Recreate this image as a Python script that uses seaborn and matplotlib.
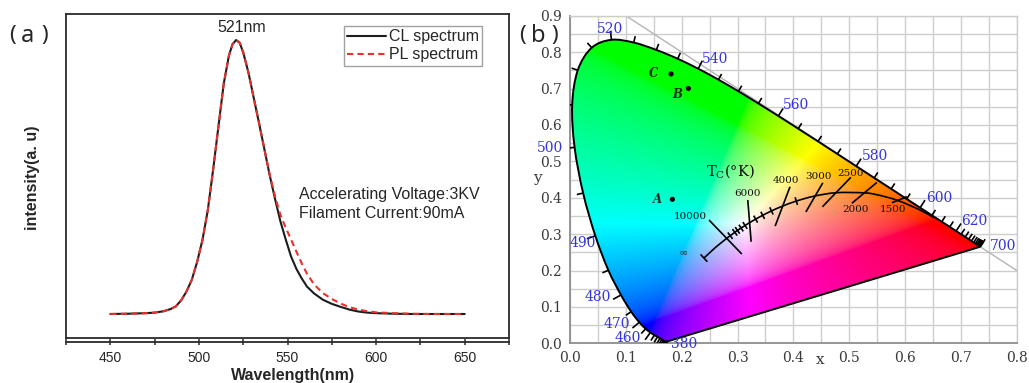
import numpy as np
import pandas as pd
import matplotlib
matplotlib.use("Agg")
import matplotlib.pyplot as plt
import seaborn as sns
from matplotlib.collections import LineCollection
from matplotlib.patches import PathPatch
from matplotlib.path import Path
from matplotlib.ticker import FormatStrFormatter, MultipleLocator

# ---------------- (a) emission spectra ----------------
wavelength_nm = [450, 460, 470, 475, 480, 484, 487, 490, 493, 496, 499, 502, 505, 508,
                 511, 514, 517, 519, 521, 523, 525, 528, 531, 534, 537, 540, 543, 546,
                 549, 552, 555, 558, 561, 565, 570, 575, 580, 585, 590, 595, 600, 610,
                 620, 630, 640, 650]
cl_intensity = [0.000, 0.001, 0.003, 0.005, 0.010, 0.018, 0.028, 0.050, 0.082, 0.125,
                0.190, 0.270, 0.378, 0.525, 0.683, 0.840, 0.945, 0.985, 1.000, 0.990,
                0.955, 0.880, 0.787, 0.695, 0.600, 0.505, 0.419, 0.338, 0.272, 0.210,
                0.165, 0.130, 0.100, 0.075, 0.052, 0.037, 0.026, 0.016, 0.009, 0.005,
                0.003, 0.001, 0.000, 0.000, 0.000, 0.000]
pl_intensity = [0.000, 0.001, 0.003, 0.005, 0.010, 0.018, 0.028, 0.050, 0.082, 0.125,
                0.190, 0.270, 0.378, 0.525, 0.683, 0.840, 0.945, 0.985, 1.000, 0.990,
                0.955, 0.880, 0.787, 0.695, 0.600, 0.508, 0.428, 0.362, 0.315, 0.272,
                0.228, 0.185, 0.147, 0.108, 0.076, 0.055, 0.038, 0.025, 0.016, 0.010,
                0.006, 0.003, 0.001, 0.000, 0.000, 0.000]
series_names = ["CL spectrum", "PL spectrum"]
peak_label = "521nm"
condition_lines = ["Accelerating Voltage:3KV", "Filament Current:90mA"]
spectrum_ticks = [450, 500, 550, 600, 650]

# ---------------- (b) CIE 1931 chromaticity diagram ----------------
locus_nm = list(range(380, 701, 5))
locus_x = [0.1741, 0.1740, 0.1738, 0.1736, 0.1733, 0.1730, 0.1726, 0.1721, 0.1714, 0.1703,
           0.1689, 0.1669, 0.1644, 0.1611, 0.1566, 0.1510, 0.1440, 0.1355, 0.1241, 0.1096,
           0.0913, 0.0687, 0.0454, 0.0235, 0.0082, 0.0039, 0.0139, 0.0389, 0.0743, 0.1142,
           0.1547, 0.1929, 0.2296, 0.2658, 0.3016, 0.3373, 0.3731, 0.4087, 0.4441, 0.4788,
           0.5125, 0.5448, 0.5752, 0.6029, 0.6270, 0.6482, 0.6658, 0.6801, 0.6915, 0.7006,
           0.7079, 0.7140, 0.7190, 0.7230, 0.7260, 0.7283, 0.7300, 0.7311, 0.7320, 0.7327,
           0.7334, 0.7340, 0.7344, 0.7346, 0.7347]
locus_y = [0.0050, 0.0050, 0.0049, 0.0049, 0.0048, 0.0048, 0.0048, 0.0048, 0.0051, 0.0058,
           0.0069, 0.0086, 0.0109, 0.0138, 0.0177, 0.0227, 0.0297, 0.0399, 0.0578, 0.0868,
           0.1327, 0.2007, 0.2950, 0.4127, 0.5384, 0.6548, 0.7502, 0.8120, 0.8338, 0.8262,
           0.8059, 0.7816, 0.7543, 0.7243, 0.6923, 0.6589, 0.6245, 0.5896, 0.5547, 0.5202,
           0.4866, 0.4544, 0.4242, 0.3965, 0.3725, 0.3514, 0.3340, 0.3197, 0.3083, 0.2993,
           0.2920, 0.2859, 0.2809, 0.2770, 0.2740, 0.2717, 0.2700, 0.2689, 0.2680, 0.2673,
           0.2666, 0.2660, 0.2656, 0.2654, 0.2653]
locus_labels = [380, 460, 470, 480, 490, 500, 520, 540, 560, 580, 600, 620, 700]

planck_T = [1000, 1200, 1500, 1800, 2000, 2500, 3000, 3500, 4000, 4500, 5000, 5500,
            6000, 6500, 7000, 7500, 8000, 9000, 10000, 15000, 20000, np.inf]
planck_x = [0.6528, 0.6251, 0.5857, 0.5498, 0.5267, 0.4770, 0.4369, 0.4053, 0.3805, 0.3608,
            0.3451, 0.3325, 0.3221, 0.3135, 0.3064, 0.2999, 0.2952, 0.2869, 0.2807, 0.2637,
            0.2565, 0.2399]
planck_y = [0.3444, 0.3674, 0.3931, 0.4081, 0.4133, 0.4137, 0.4041, 0.3907, 0.3768, 0.3636,
            0.3516, 0.3411, 0.3318, 0.3237, 0.3166, 0.3102, 0.3048, 0.2956, 0.2884, 0.2674,
            0.2577, 0.2342]
planck_minor_T = [9000, 8000, 7500, 7000, 6500, 5500, 5000, 4500, 3500]

iso_labels = ["10000", "6000", "4000", "3000", "2500", "2000", "1500"]
iso_x0 = [0.249, 0.3184, 0.394, 0.4528, 0.503, 0.5496, 0.6034]
iso_y0 = [0.3387, 0.3937, 0.430, 0.441, 0.456, 0.442, 0.4028]
iso_x1 = [0.3077, 0.3244, 0.3674, 0.4224, 0.452, 0.5048, 0.5765]
iso_y1 = [0.2453, 0.279, 0.322, 0.3607, 0.375, 0.3846, 0.386]

sample_names = ["A", "B", "C"]
sample_x = [0.1834, 0.212, 0.181]
sample_y = [0.3956, 0.700, 0.740]

# ---------------- figure setup ----------------
sns.set_style("white")
plt.rcParams["font.family"] = ["Liberation Sans", "DejaVu Sans"]

W, H = 1029, 383
fig = plt.figure(figsize=(W / 100, H / 100), dpi=100)


def px_rect(left, top, right, bottom):
    return [left / W, 1 - bottom / H, (right - left) / W, (bottom - top) / H]


def smooth_path(xs, ys, close_straight=False):
    """Cubic (Catmull-Rom) path passing through every given point."""
    P = np.column_stack([xs, ys]).astype(float)
    ext = np.vstack([P[0], P, P[-1]])
    verts = [P[0]]
    codes = [Path.MOVETO]
    for i in range(len(P) - 1):
        p0, p1, p2, p3 = ext[i], ext[i + 1], ext[i + 2], ext[i + 3]
        verts += [p1 + (p2 - p0) / 6.0, p2 - (p3 - p1) / 6.0, p2]
        codes += [Path.CURVE4] * 3
    if close_straight:
        verts += [P[0], P[0]]
        codes += [Path.LINETO, Path.CLOSEPOLY]
    return Path(np.array(verts), codes)


# ======================= panel (a) =======================
axL = fig.add_axes(px_rect(66, 14, 509, 338))
n = len(wavelength_nm)
spec = pd.DataFrame({
    "Wavelength": wavelength_nm * 2,
    "Intensity": cl_intensity + pl_intensity,
    "Series": [series_names[0]] * n + [series_names[1]] * n,
})
sns.lineplot(data=spec, x="Wavelength", y="Intensity", hue="Series", style="Series",
             palette={series_names[0]: "#1c1c1c", series_names[1]: "#e8302c"},
             dashes={series_names[0]: "", series_names[1]: (3, 2)},
             linewidth=1.5, ax=axL)
axL.set_xlim(425, 675)
axL.set_ylim(-0.0876, 1.095)
axL.set_yticks([])
axL.set_xticks(spectrum_ticks)
axL.xaxis.set_minor_locator(MultipleLocator(25))
for side in ["top", "left", "right", "bottom"]:
    axL.spines[side].set_color("#2a2a2a")
    axL.spines[side].set_linewidth(1.3)
axL.spines["bottom"].set_position(("outward", 3))
axL.plot([0, 1], [0, 0], transform=axL.transAxes, color="#2a2a2a", lw=1.3,
         clip_on=False, zorder=5)
axL.tick_params(axis="x", which="both", direction="inout", length=5, width=1.1,
                color="#2a2a2a", labelsize=10, pad=4, bottom=True)
axL.set_xlabel("Wavelength(nm)", fontsize=11.5, fontweight="bold")
axL.xaxis.set_label_coords(0.512, -0.092)
axL.set_ylabel("intensity(a. u)", fontsize=11.5, fontweight="bold")
axL.yaxis.set_label_coords(-0.058, 0.494)

handles, labels = axL.get_legend_handles_labels()
keep = [(h, l) for h, l in zip(handles, labels) if l in series_names]
leg = axL.legend([h for h, _ in keep], [l for _, l in keep], loc="upper right",
                 bbox_to_anchor=(0.939, 0.963), borderaxespad=0, frameon=True,
                 fancybox=False, edgecolor="#8a8a8a", fontsize=11.5, handlelength=2.4,
                 handletextpad=0.2, borderpad=0.2, labelspacing=0.2)
leg.get_frame().set_linewidth(1.0)

axL.text(524.4, 1.044, peak_label, ha="center", va="center", fontsize=11.5)
axL.text(556.6, 0.438, condition_lines[0], ha="left", va="center", fontsize=11.5)
axL.text(556.6, 0.365, condition_lines[1], ha="left", va="center", fontsize=11.5)

# panel letters: thin brackets set apart from the letter
for (lp, cx, rp), letter in [((12, 28, 45), "a"), ((523, 538, 555), "b")]:
    yy = 1 - 35 / H
    fig.text(lp / W, yy, "(", ha="center", va="center", fontsize=16, family="Noto Sans")
    fig.text(cx / W, yy - 1 / H, letter, ha="center", va="center", fontsize=17,
             family="Noto Sans", fontweight="bold")
    fig.text(rp / W, yy, ")", ha="center", va="center", fontsize=16, family="Noto Sans")

# ======================= panel (b) =======================
axR = fig.add_axes(px_rect(570, 15.7, 1016.7, 343.3))
serif = "DejaVu Serif"

# colour field of the chromaticity plane (xyY with Y=1 -> sRGB)
gx = np.linspace(0.0, 0.8, 640)
gy = np.linspace(0.0005, 0.9, 720)
GX, GY = np.meshgrid(gx, gy)
XYZ = np.stack([GX / GY, np.ones_like(GX), (1 - GX - GY) / GY], axis=-1)
M = np.array([[3.2406, -1.5372, -0.4986],
              [-0.9689, 1.8758, 0.0415],
              [0.0557, -0.2040, 1.0570]])
rgb = np.clip(XYZ @ M.T, 0, None)
rgb /= np.maximum(rgb.max(axis=-1, keepdims=True), 1e-9)
rgb = np.where(rgb <= 0.0031308, 12.92 * rgb, 1.055 * np.power(rgb, 1 / 2.4) - 0.055)
rgb = np.clip(rgb, 0, 1)
img = axR.imshow(rgb, extent=[0, 0.8, 0, 0.9], origin="lower", aspect="auto",
                 interpolation="bilinear", zorder=1)
outline_path = smooth_path(locus_x, locus_y, close_straight=True)
clip_patch = PathPatch(outline_path, transform=axR.transData, facecolor="none")
img.set_clip_path(clip_patch)
axR.add_patch(PathPatch(outline_path, facecolor="none", edgecolor="black", lw=1.4,
                        zorder=4))

axR.set_xlim(0, 0.8)
axR.set_ylim(0, 0.9)
axR.set_xticks(np.arange(0, 0.81, 0.1))
axR.set_yticks(np.arange(0, 0.91, 0.1))
axR.xaxis.set_minor_locator(MultipleLocator(0.05))
axR.yaxis.set_minor_locator(MultipleLocator(0.05))
axR.xaxis.set_major_formatter(FormatStrFormatter("%.1f"))
axR.yaxis.set_major_formatter(FormatStrFormatter("%.1f"))
axR.grid(True, which="both", color="#cdcdcd", lw=1.0)
axR.set_axisbelow(True)
for side in ["left", "bottom"]:
    axR.spines[side].set_color("#8e8e8e")
    axR.spines[side].set_linewidth(1.3)
for side in ["top", "right"]:
    axR.spines[side].set_color("#cdcdcd")
    axR.spines[side].set_linewidth(1.0)
axR.tick_params(which="major", direction="out", length=3.5, width=1.1, color="#8e8e8e",
                labelsize=10, labelcolor="#3a3a3a", pad=2)
axR.tick_params(which="minor", length=0)
for lab in axR.get_xticklabels() + axR.get_yticklabels():
    lab.set_family(serif)
axR.text(0.56, -0.05, "x", transform=axR.transAxes, ha="center", va="center",
         fontsize=11, family=serif, color="#3a3a3a")
axR.text(-0.074, 0.504, "y", transform=axR.transAxes, ha="center", va="center",
         fontsize=11, family=serif, color="#3a3a3a")

# x + y = 1 guide line
axR.plot([0.1, 0.8], [0.9, 0.2], color="#b4b4b4", lw=1.0, zorder=0.8)


def path_normals(ax, xs, ys, ref_xy, min_px=3.0):
    pts = ax.transData.transform(np.column_stack([xs, ys]))
    ref = ax.transData.transform([ref_xy])[0]
    normals = []
    for i in range(len(pts)):
        j = i
        while j < len(pts) - 1 and np.hypot(*(pts[j] - pts[i])) < min_px:
            j += 1
        k = i
        while k > 0 and np.hypot(*(pts[k] - pts[i])) < min_px:
            k -= 1
        t = pts[j] - pts[k]
        t = t / (np.hypot(*t) + 1e-12)
        nv = np.array([t[1], -t[0]])
        if np.dot(nv, pts[i] - ref) < 0:
            nv = -nv
        normals.append(nv)
    return pts, np.array(normals)


inv = axR.transData.inverted()
pts, nrm = path_normals(axR, locus_x, locus_y, (0.33, 0.33))
segs = []
for i, wl in enumerate(locus_nm):
    L = 9 if wl in locus_labels else 6.5
    segs.append(inv.transform([pts[i], pts[i] + nrm[i] * L]))
axR.add_collection(LineCollection(segs, colors="black", linewidths=1.2, zorder=4))

label_pos = {380: (0.204, -0.001), 460: (0.1027, 0.0137), 470: (0.083, 0.053),
             480: (0.049, 0.128), 490: (0.0227, 0.276), 500: (-0.0358, 0.5365),
             520: (0.0723, 0.864), 540: (0.26, 0.782), 560: (0.4056, 0.6547),
             580: (0.5454, 0.5137), 600: (0.6619, 0.398), 620: (0.7246, 0.335),
             700: (0.776, 0.267)}
for wl in locus_labels:
    lx, ly = label_pos[wl]
    axR.text(lx, ly, str(wl), ha="center", va="center", fontsize=10, family=serif,
             color="#3434dc", zorder=6)

# Planckian locus with isotherms
axR.add_patch(PathPatch(smooth_path(planck_x, planck_y), facecolor="none",
                        edgecolor="black", lw=1.2, zorder=5))
ppts, pn = path_normals(axR, planck_x, planck_y, (0.33, 0.0))
psegs = []
for T in planck_minor_T:
    i = planck_T.index(T)
    psegs.append(inv.transform([ppts[i] - pn[i] * 4, ppts[i] + pn[i] * 4]))
i_inf = len(planck_T) - 1
psegs.append(inv.transform([ppts[i_inf] - pn[i_inf] * 5, ppts[i_inf] + pn[i_inf] * 5]))
for x0, y0, x1, y1 in zip(iso_x0, iso_y0, iso_x1, iso_y1):
    psegs.append([(x0, y0), (x1, y1)])
axR.add_collection(LineCollection(psegs, colors="black", linewidths=1.2, zorder=5))

iso_label_pos = {"10000": (0.215, 0.3497), "6000": (0.3172, 0.411), "4000": (0.3865, 0.446),
                 "3000": (0.4456, 0.4596), "2500": (0.5018, 0.466), "2000": (0.5113, 0.367),
                 "1500": (0.5794, 0.367)}
for lab in iso_labels:
    lx, ly = iso_label_pos[lab]
    axR.text(lx, ly, lab, ha="center", va="center", fontsize=7.5, family=serif,
             color="#111111", zorder=6)
axR.text(0.203, 0.249, "∞", ha="center", va="center", fontsize=8, family=serif, zorder=6)
axR.text(0.2873, 0.47, r"T$_\mathregular{C}$(°K)", ha="center", va="center",
         fontsize=10.5, family=serif, color="#111111", zorder=6)

# measured colour points
samples = pd.DataFrame({"x": sample_x, "y": sample_y, "name": sample_names})
sns.scatterplot(data=samples, x="x", y="y", color="black", s=14, edgecolor="none",
                ax=axR, zorder=6, legend=False)
name_pos = {"A": (0.1565, 0.3956), "B": (0.1918, 0.684), "C": (0.15, 0.74)}
for nm in sample_names:
    lx, ly = name_pos[nm]
    axR.text(lx, ly, nm, ha="center", va="center", fontsize=8.5, family=serif,
             style="italic", fontweight="bold", zorder=6)

axR.set_xlabel("")
axR.set_ylabel("")
axR.set_xlim(0, 0.8)
axR.set_ylim(0, 0.9)

fig.savefig("out.png", dpi=100)
